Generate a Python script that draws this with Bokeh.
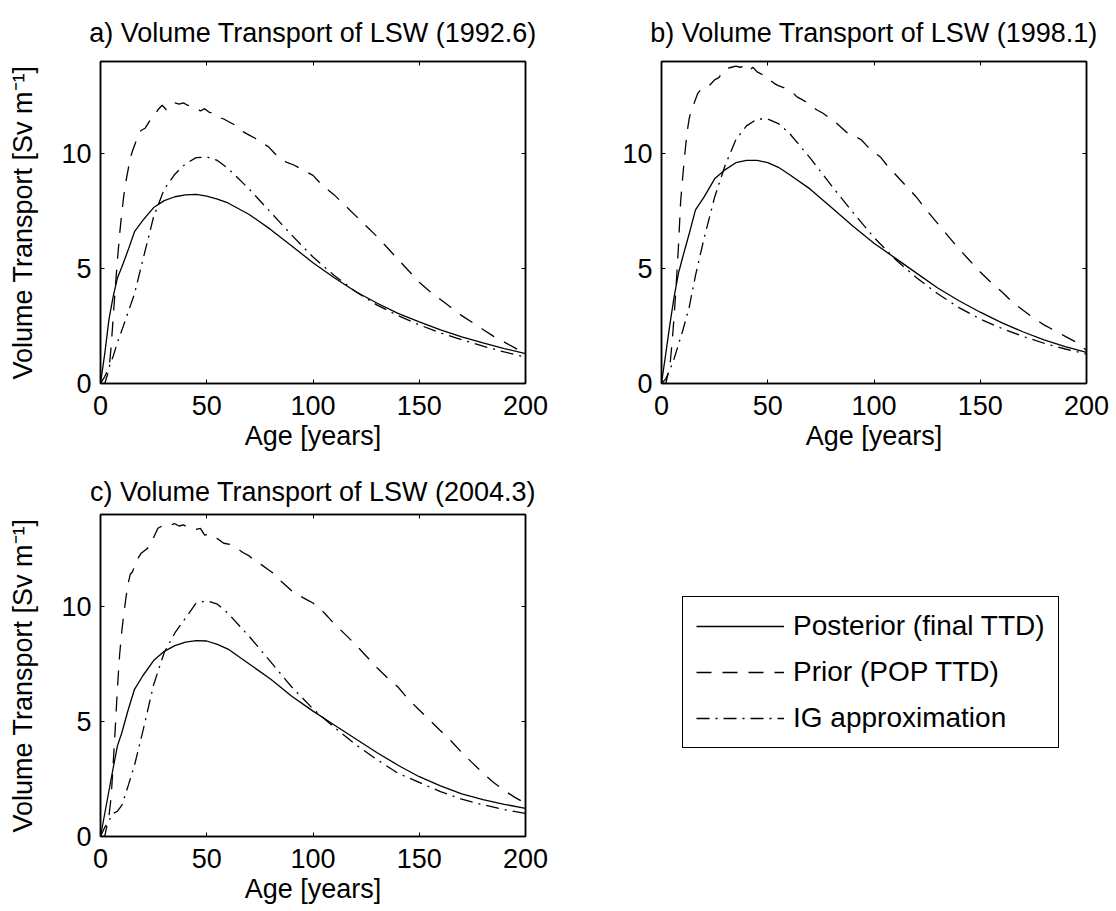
from bokeh.plotting import figure
from bokeh.models import Range1d, LinearAxis, FixedTicker, Legend, LegendItem
from bokeh.layouts import row, column
from bokeh.embed import file_html
from bokeh.resources import INLINE

FONT = "Liberation Sans"

# ---------------- data ----------------
x_ticks = [0, 50, 100, 150, 200]
y_ticks = [0, 5, 10]
x_limits = (0, 200)
y_limits = (0, 14)

titles = ["a) Volume Transport of LSW (1992.6)",
          "b) Volume Transport of LSW (1998.1)",
          "c) Volume Transport of LSW (2004.3)"]
x_label = "Age [years]"
y_label = "Volume Transport [Sv m\u207b\u00b9]"
series_names = ["Posterior (final TTD)", "Prior (POP TTD)", "IG approximation"]

age_smooth = [0, 2, 4, 6, 8, 10, 13, 16, 20, 25, 30, 35, 40, 45, 50, 55, 60,
              70, 80, 90, 100, 110, 120, 130, 140, 150, 160, 170, 180, 190, 200]

age_prior = [0, 2, 4, 5, 6, 7, 8, 9, 10, 11, 12, 13, 14, 15,
             17, 19, 21, 23, 25, 27, 29, 31, 33, 35, 37, 39, 41, 43, 45, 47, 49, 51, 53, 55,
             58, 61, 64, 67, 70, 73, 76, 79, 82, 85, 88, 91, 94, 97, 100,
             103, 106, 110, 115, 120, 125, 130, 135, 140, 145, 150, 155, 160, 165, 170,
             175, 180, 185, 190, 195, 200]

# panel a (1992.6)
posterior_a = [0, 1.3, 2.8, 3.8, 4.6, 5.05, 5.8, 6.6, 7.1, 7.65, 7.95, 8.12, 8.2, 8.22, 8.15, 8.02, 7.85,
               7.35, 6.7, 5.98, 5.25, 4.6, 4.0, 3.5, 3.05, 2.68, 2.33, 2.03, 1.77, 1.52, 1.3]
ig_a = [0, 0.3, 0.7, 1.2, 1.8, 2.3, 3.1, 3.9, 5.4, 7.25, 8.45, 9.1, 9.55, 9.82, 9.85, 9.7, 9.35,
        8.45, 7.45, 6.45, 5.5, 4.7, 4.0, 3.42, 2.95, 2.55, 2.2, 1.9, 1.62, 1.37, 1.15]
prior_a = [0, 0, 0.6, 1.6, 2.9, 4.2, 5.4, 6.5, 7.4, 8.2, 8.8, 9.3, 9.8, 10.1,
           10.6, 11.0, 11.1, 11.4, 11.6, 11.9, 12.1, 11.9, 12.1, 12.2, 12.15, 12.2, 12.1, 12.05, 12.0, 11.85, 11.95, 11.8, 11.75, 11.6,
           11.5, 11.35, 11.2, 10.95, 10.8, 10.65, 10.45, 10.3, 10.0, 9.75, 9.6, 9.5, 9.35, 9.2, 9.05,
           8.75, 8.5, 8.2, 7.75, 7.3, 6.85, 6.4, 5.9, 5.4, 4.9, 4.4, 4.0, 3.65, 3.3, 2.95,
           2.65, 2.35, 2.05, 1.8, 1.55, 1.3]

# panel b (1998.1)
posterior_b = [0, 1.3, 2.6, 3.8, 4.8, 5.5, 6.5, 7.55, 8.1, 8.9, 9.3, 9.6, 9.7, 9.7, 9.6, 9.4, 9.1,
               8.45, 7.65, 6.85, 6.1, 5.45, 4.8, 4.15, 3.6, 3.1, 2.65, 2.25, 1.9, 1.6, 1.35]
ig_b = [0, 0.2, 0.6, 1.1, 1.7, 2.3, 3.3, 4.7, 6.3, 8.1, 9.5, 10.6, 11.2, 11.5, 11.5, 11.3, 10.9,
        9.8, 8.6, 7.45, 6.35, 5.4, 4.6, 3.9, 3.3, 2.8, 2.4, 2.05, 1.75, 1.5, 1.28]
prior_b = [0, 0, 0.8, 1.8, 3.0, 4.4, 6.0, 7.9, 9.0, 10.0, 10.9, 11.5, 11.9, 12.1,
           12.6, 12.85, 12.9, 13.0, 13.2, 13.3, 13.6, 13.7, 13.75, 13.8, 13.75, 13.8, 13.6, 13.75, 13.55, 13.45, 13.4, 13.2, 13.05, 12.95,
           12.85, 12.7, 12.45, 12.3, 12.1, 11.9, 11.75, 11.55, 11.35, 11.1, 10.85, 10.75, 10.6, 10.3, 10.05,
           9.85, 9.5, 9.1, 8.6, 8.1, 7.5, 6.95, 6.4, 5.85, 5.35, 4.85, 4.4, 4.0, 3.55, 3.2,
           2.85, 2.55, 2.3, 2.05, 1.8, 1.45]

# panel c (2004.3)
posterior_c = [0, 1.0, 2.0, 3.0, 3.95, 4.5, 5.5, 6.4, 7.0, 7.65, 8.05, 8.3, 8.45, 8.52, 8.5, 8.35, 8.15,
               7.5, 6.85, 6.1, 5.45, 4.85, 4.25, 3.65, 3.1, 2.6, 2.2, 1.85, 1.6, 1.4, 1.22]
ig_c = [0, 0.4, 0.7, 1.0, 1.1, 1.35, 2.2, 3.1, 4.6, 6.6, 8.0, 8.85, 9.5, 10.15, 10.25, 10.1, 9.7,
        8.7, 7.6, 6.5, 5.55, 4.75, 4.0, 3.35, 2.75, 2.35, 1.95, 1.62, 1.38, 1.17, 1.0]
prior_c = [0, 0, 0.9, 1.7, 3.2, 4.8, 6.5, 7.9, 8.9, 9.7, 10.4, 11.0, 11.4, 11.5,
           12.0, 12.3, 12.45, 12.6, 13.0, 13.4, 13.5, 13.45, 13.55, 13.6, 13.5, 13.55, 13.45, 13.4, 13.35, 13.4, 13.1, 13.15, 13.0, 12.95,
           12.75, 12.7, 12.55, 12.35, 12.2, 11.95, 11.8, 11.6, 11.4, 11.1, 10.85, 10.6, 10.45, 10.3, 10.15,
           9.95, 9.65, 9.25, 8.8, 8.35, 7.85, 7.35, 6.9, 6.5, 5.95, 5.5, 5.05, 4.6, 4.15, 3.65,
           3.2, 2.75, 2.35, 2.0, 1.7, 1.45]

# ---------------- styling ----------------
LW = 1.3
SOLID = dict(line_color="black", line_width=LW)
DASHED = dict(line_color="black", line_width=LW, line_dash="15 11")
DASHDOT = dict(line_color="black", line_width=LW, line_dash="13 6 2 6")
TICK_FS = "27px"
LABEL_FS = "27px"
TITLE_FS = "27px"

FRAME_W, FRAME_H = 425, 322
ROW1_TOP, ROW1_BOTTOM = 61, 76
ROW2_TOP, ROW2_BOTTOM = 55, 75


def style_axis(ax, show_labels=True):
    ax.axis_line_color = "black"
    ax.axis_line_width = 1.5
    ax.major_tick_in = 4
    ax.major_tick_out = 0
    ax.minor_tick_in = 0
    ax.minor_tick_out = 0
    ax.major_tick_line_color = "black"
    ax.major_tick_line_width = 1
    ax.major_label_text_font = FONT
    ax.axis_label_text_font = FONT
    ax.axis_label_text_font_style = "normal"
    ax.axis_label_text_color = "black"
    ax.major_label_text_color = "black"
    if show_labels:
        ax.major_label_text_font_size = TICK_FS
        ax.axis_label_text_font_size = LABEL_FS
    else:
        ax.major_label_text_font_size = "0px"
        ax.major_label_text_color = None
        ax.major_label_standoff = 0


def panel(title, post, prior, ig, ylab, b_left, b_right, b_top, b_bottom, title_standoff):
    p = figure(frame_width=FRAME_W, frame_height=FRAME_H,
               x_range=Range1d(*x_limits), y_range=Range1d(*y_limits),
               output_backend="svg", toolbar_location=None,
               min_border_left=b_left, min_border_right=b_right,
               min_border_top=b_top, min_border_bottom=b_bottom)
    p.title.text = title
    p.title.align = "center"
    p.title.text_font = FONT
    p.title.text_font_size = TITLE_FS
    p.title.text_font_style = "normal"
    p.title.text_color = "black"
    p.title.standoff = title_standoff
    p.grid.visible = False
    p.outline_line_color = "black"
    p.outline_line_width = 1.5
    p.background_fill_color = "white"
    p.border_fill_color = "white"

    xa = p.xaxis[0]
    ya = p.yaxis[0]
    xa.ticker = FixedTicker(ticks=x_ticks)
    ya.ticker = FixedTicker(ticks=y_ticks)
    style_axis(xa)
    style_axis(ya)
    xa.axis_label = x_label
    xa.major_label_standoff = 12
    xa.axis_label_standoff = 3
    ya.major_label_standoff = 9
    if ylab:
        ya.axis_label = y_label
        ya.axis_label_standoff = 20

    top = LinearAxis(ticker=FixedTicker(ticks=x_ticks))
    style_axis(top, show_labels=False)
    p.add_layout(top, "above")
    right = LinearAxis(ticker=FixedTicker(ticks=y_ticks))
    style_axis(right, show_labels=False)
    p.add_layout(right, "right")

    p.line(age_smooth, post, **SOLID)
    p.line(age_prior, prior, **DASHED)
    p.line(age_smooth, ig, **DASHDOT)
    return p


pa = panel(titles[0], posterior_a, prior_a, ig_a, True, 100, 35, ROW1_TOP, ROW1_BOTTOM, 27)
pb = panel(titles[1], posterior_b, prior_b, ig_b, False, 101, 29, ROW1_TOP, ROW1_BOTTOM, 27)
pc = panel(titles[2], posterior_c, prior_c, ig_c, True, 100, 35, ROW2_TOP, ROW2_BOTTOM, 16)

# legend panel: same frame geometry as panel c so the rows line up
pl = figure(frame_width=500, frame_height=FRAME_H, output_backend="svg", toolbar_location=None,
            x_axis_type=None, y_axis_type=None,
            min_border_left=22, min_border_right=34,
            min_border_top=ROW2_TOP, min_border_bottom=ROW2_BOTTOM,
            outline_line_color=None)
pl.grid.visible = False
r1 = pl.line(age_smooth, posterior_c, visible=False, **SOLID)
r2 = pl.line(age_prior, prior_c, visible=False, **DASHED)
r3 = pl.line(age_smooth, ig_c, visible=False, **DASHDOT)
legend = Legend(items=[LegendItem(label=series_names[0], renderers=[r1]),
                       LegendItem(label=series_names[1], renderers=[r2]),
                       LegendItem(label=series_names[2], renderers=[r3])],
                location=(100, 88))
legend.inactive_fill_alpha = 0
legend.label_text_font = FONT
legend.label_text_font_size = "28px"
legend.label_text_color = "black"
legend.border_line_color = "black"
legend.border_line_alpha = 1
legend.border_line_width = 1.5
legend.background_fill_color = "white"
legend.background_fill_alpha = 1
legend.glyph_width = 88
legend.glyph_height = 32
legend.label_height = 32
legend.label_standoff = 9
legend.padding = 13
legend.spacing = 14
legend.margin = 0
pl.add_layout(legend)

layout = column(row(pa, pb), row(pc, pl))

with open("out.html", "w") as f:
    f.write(file_html(layout, INLINE, "Volume Transport of LSW"))
